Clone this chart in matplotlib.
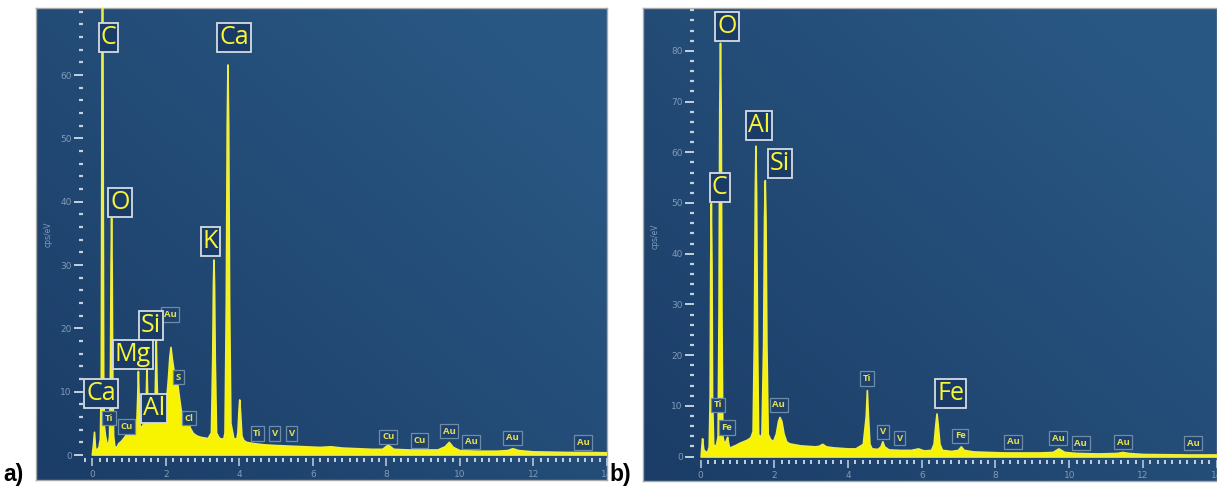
import numpy as np
import matplotlib
matplotlib.use("Agg")
import matplotlib.pyplot as plt
from matplotlib.ticker import MultipleLocator

W, H = 1217, 492

# ---------------------------------------------------------------- data
# Spectrum a): energy (keV) and intensity (cps/eV)
energy_a = [0.00, 0.03, 0.06, 0.09, 0.13, 0.18, 0.22, 0.245, 0.26, 0.277,
            0.295, 0.31, 0.33, 0.36, 0.41, 0.45, 0.47, 0.495, 0.51, 0.525,
            0.54, 0.555, 0.58, 0.61, 0.65, 0.72, 0.80, 0.88, 0.93, 0.98,
            1.05, 1.12, 1.18, 1.21, 1.235, 1.254, 1.275, 1.30, 1.34, 1.38,
            1.42, 1.45, 1.47, 1.487, 1.505, 1.53, 1.57, 1.61, 1.65, 1.70,
            1.72, 1.740, 1.76, 1.79, 1.84, 1.90, 1.96, 2.02, 2.07, 2.11,
            2.14, 2.18, 2.23, 2.28, 2.31, 2.36, 2.42, 2.50, 2.57, 2.62,
            2.67, 2.75, 2.85, 2.95, 3.05, 3.15, 3.24, 3.275, 3.295, 3.31,
            3.325, 3.345, 3.38, 3.45, 3.52, 3.58, 3.61, 3.645, 3.67, 3.69,
            3.71, 3.735, 3.77, 3.85, 3.93, 3.96, 3.99, 4.01, 4.03, 4.07,
            4.12, 4.20, 4.40, 4.70, 5.00, 5.40, 5.80, 6.20, 6.50, 6.80,
            7.20, 7.60, 7.90, 8.05, 8.20, 8.60, 9.00, 9.40, 9.60, 9.71,
            9.82, 10.00, 10.50, 11.00, 11.30, 11.44, 11.60, 12.00, 12.50, 13.00,
            13.50, 14.00, 14.10]
cps_a = [0.0, 1.5, 3.6, 1.0, 0.8, 1.2, 2.5, 12.0, 50.0, 110.0,
         50.0, 12.0, 4.5, 3.0, 1.5, 2.0, 3.0, 14.0, 30.0, 37.4,
         30.0, 14.0, 3.0, 1.5, 1.0, 1.8, 2.2, 2.8, 3.2, 3.0,
         3.4, 3.8, 4.2, 5.0, 9.0, 13.2, 9.0, 4.6, 4.3, 4.8,
         4.5, 5.5, 9.5, 13.8, 9.5, 5.0, 4.6, 5.0, 4.7, 6.0,
         12.0, 18.2, 12.0, 6.0, 5.2, 5.5, 6.5, 8.5, 12.0, 15.5,
         17.0, 15.0, 13.0, 12.0, 12.0, 9.5, 7.0, 5.5, 4.8, 5.3,
         4.2, 3.4, 3.0, 2.8, 2.7, 2.6, 3.5, 15.0, 27.0, 30.8,
         27.0, 15.0, 3.5, 2.7, 2.5, 2.6, 3.5, 24.0, 52.0, 61.6,
         52.0, 24.0, 5.0, 2.6, 2.5, 3.5, 7.0, 8.7, 7.0, 3.0,
         2.3, 2.0, 1.8, 1.6, 1.5, 1.4, 1.3, 1.2, 1.3, 1.1,
         1.0, 0.9, 0.9, 1.6, 0.9, 0.8, 0.8, 0.8, 1.3, 2.0,
         1.2, 0.7, 0.6, 0.6, 0.7, 1.0, 0.7, 0.5, 0.45, 0.4,
         0.4, 0.35, 0.35]

# Spectrum b)
energy_b = [0.00, 0.02, 0.04, 0.07, 0.12, 0.18, 0.22, 0.245, 0.26, 0.277,
            0.295, 0.31, 0.34, 0.38, 0.42, 0.46, 0.485, 0.505, 0.525, 0.545,
            0.565, 0.59, 0.62, 0.66, 0.70, 0.72, 0.75, 0.78, 0.85, 0.95,
            1.05, 1.15, 1.25, 1.35, 1.41, 1.445, 1.47, 1.487, 1.505, 1.53,
            1.56, 1.60, 1.65, 1.695, 1.72, 1.740, 1.76, 1.785, 1.82, 1.88,
            1.96, 2.04, 2.10, 2.14, 2.19, 2.25, 2.32, 2.40, 2.55, 2.70,
            2.90, 3.10, 3.20, 3.30, 3.40, 3.60, 3.80, 4.00, 4.20, 4.40,
            4.48, 4.51, 4.54, 4.58, 4.64, 4.80, 4.88, 4.93, 4.98, 5.10,
            5.40, 5.70, 5.90, 6.05, 6.25, 6.32, 6.37, 6.40, 6.43, 6.48,
            6.55, 6.80, 6.98, 7.06, 7.14, 7.40, 7.80, 8.20, 8.50, 8.80,
            9.20, 9.55, 9.71, 9.87, 10.20, 10.80, 11.30, 11.44, 11.60, 12.00,
            12.60, 13.20, 13.80, 14.10]
cps_b = [0.0, 2.0, 3.6, 1.5, 1.0, 1.0, 2.0, 12.0, 38.0, 50.0,
         38.0, 12.0, 2.5, 2.0, 2.5, 4.0, 28.0, 68.0, 81.6, 68.0,
         28.0, 4.0, 3.0, 2.8, 3.5, 3.9, 2.5, 1.7, 2.0, 2.3,
         2.7, 3.0, 3.3, 3.8, 5.0, 24.0, 52.0, 61.3, 52.0, 24.0,
         4.5, 3.8, 4.5, 22.0, 47.0, 54.5, 47.0, 22.0, 4.5, 3.5,
         3.0, 4.5, 7.0, 7.8, 7.0, 4.5, 3.0, 2.6, 2.4, 2.2,
         2.1, 2.0, 2.1, 2.5, 2.0, 1.8, 1.7, 1.6, 1.6, 2.5,
         8.0, 13.1, 8.0, 2.5, 1.6, 1.5, 2.0, 3.0, 2.0, 1.4,
         1.3, 1.3, 1.6, 1.2, 1.3, 2.5, 6.5, 8.5, 6.5, 2.5,
         1.3, 1.1, 1.3, 2.0, 1.3, 1.0, 0.9, 0.8, 0.8, 0.8,
         0.8, 0.9, 1.6, 0.9, 0.7, 0.6, 0.7, 0.9, 0.7, 0.5,
         0.45, 0.4, 0.4, 0.4]

# Element labels: (symbol, energy, cps)
major_labels_a = [("C", 0.44, 66.0), ("Ca", 3.85, 66.0), ("O", 0.75, 39.9),
                  ("K", 3.21, 33.8), ("Si", 1.59, 20.5), ("Mg", 1.11, 15.8),
                  ("Ca", 0.245, 9.75), ("Al", 1.67, 7.3)]
minor_labels_a = [("Ti", 0.45, 5.8), ("Cu", 0.93, 4.5), ("Au", 2.125, 22.2),
                  ("S", 2.34, 12.3), ("Cl", 2.63, 5.8), ("Ti", 4.49, 3.4),
                  ("V", 4.96, 3.4), ("V", 5.42, 3.4), ("Cu", 8.05, 2.85),
                  ("Cu", 8.90, 2.3), ("Au", 9.70, 3.75), ("Au", 10.31, 2.1),
                  ("Au", 11.43, 2.7), ("Au", 13.36, 2.0)]
major_labels_b = [("O", 0.72, 84.8), ("Al", 1.58, 65.3), ("Si", 2.15, 57.7),
                  ("C", 0.52, 53.0), ("Fe", 6.79, 12.5)]
minor_labels_b = [("Ti", 0.47, 10.2), ("Fe", 0.71, 5.7), ("Au", 2.12, 10.2),
                  ("Ti", 4.51, 15.4), ("V", 4.95, 4.9), ("V", 5.40, 3.6),
                  ("Fe", 7.04, 4.1), ("Au", 8.48, 2.9), ("Au", 9.70, 3.6),
                  ("Au", 10.31, 2.6), ("Au", 11.46, 2.85), ("Au", 13.37, 2.6)]

x_ticks = [0, 2, 4, 6, 8, 10, 12, 14]
y_ticks_a = [0, 10, 20, 30, 40, 50, 60]
y_ticks_b = [0, 10, 20, 30, 40, 50, 60, 70, 80]

# ---------------------------------------------------------------- style
BG_DARK = np.array([0x1b, 0x3d, 0x67]) / 255
BG_LIGHT = np.array([0x29, 0x57, 0x83]) / 255
SPEC = "#f8f400"
TICK = "#c3d0de"
TICKLABEL = "#7f9bba"
BIG_FONT = "Open Sans"

assert len(energy_a) == len(cps_a) and len(energy_b) == len(cps_b)


def frac(x0, y0, x1, y1):
    return [x0 / W, 1 - y1 / H, (x1 - x0) / W, (y1 - y0) / H]


fig = plt.figure(figsize=(W / 100, H / 100), dpi=100)
fig.patch.set_facecolor("white")


def panel(bg_px, ax_px, xlim, ylim, energy, cps, yticks, major, minor,
          ylabel_px):
    bg = fig.add_axes(frac(*bg_px))
    gx, gy = np.meshgrid(np.linspace(0, 1, 200), np.linspace(0, 1, 200))
    t = np.clip(0.6 * gx + 0.55 * gy, 0, 1)[..., None]
    img = BG_DARK * (1 - t) + BG_LIGHT * t
    bg.imshow(img, extent=[0, 1, 0, 1], origin="lower", aspect="auto",
              interpolation="bilinear")
    bg.set_xlim(0, 1)
    bg.set_ylim(0, 1)
    bg.set_xticks([])
    bg.set_yticks([])
    for s in bg.spines.values():
        s.set_color("#a9a9a9")
        s.set_linewidth(1.0)
    bg.set_zorder(0)

    ax = fig.add_axes(frac(*ax_px))
    ax.set_zorder(1)
    ax.patch.set_alpha(0)
    ax.fill_between(energy, 0, cps, color=SPEC, linewidth=1.2,
                    edgecolor="#f0ee40", zorder=2)
    ax.set_xlim(*xlim)
    ax.set_ylim(*ylim)
    for s in ax.spines.values():
        s.set_visible(False)

    ax.set_xticks(x_ticks)
    ax.xaxis.set_minor_locator(MultipleLocator(0.2))
    ax.set_yticks(yticks)
    ax.yaxis.set_minor_locator(MultipleLocator(2))
    ax.tick_params(axis="x", which="major", direction="out", length=6,
                   width=1.1, color=TICK, labelsize=6.5, labelcolor=TICKLABEL,
                   pad=2.5)
    ax.tick_params(axis="x", which="minor", direction="out", length=3,
                   width=1.4, color=TICK)
    ax.tick_params(axis="y", which="major", direction="out", length=6.5,
                   width=1.4, color=TICK, labelsize=6.5, labelcolor=TICKLABEL,
                   pad=1.5)
    ax.tick_params(axis="y", which="minor", direction="out", length=2.6,
                   width=1.6, color=TICK)
    for lab in ax.get_xticklabels() + ax.get_yticklabels():
        lab.set_clip_path(bg.patch)

    for sym, e, c in minor:
        ax.text(e, c, sym, ha="center", va="center", fontsize=6.8,
                fontweight="bold", family="Open Sans", color="#e3df55",
                zorder=5, clip_on=True,
                bbox=dict(boxstyle="square,pad=0.28", facecolor="#1e426d",
                          edgecolor="#6d8caa", linewidth=0.9))
    for sym, e, c in major:
        ax.text(e, c, sym, ha="center", va="center", fontsize=18,
                family=BIG_FONT, color="#fbf633", zorder=6,
                bbox=dict(boxstyle="square,pad=0.08", facecolor="#1b3b67",
                          edgecolor="#d5dce4", linewidth=1.3))

    fig.text(ylabel_px[0] / W, 1 - ylabel_px[1] / H, "cps/eV", rotation=90,
             ha="center", va="center", fontsize=5.5, color=TICKLABEL)
    return ax


panel((36, 8, 607, 480), (83, 8, 607, 458), (-0.253, 13.99), (-0.47, 70.6),
      energy_a, cps_a, y_ticks_a, major_labels_a, minor_labels_a, (48, 234))
panel((643, 8, 1217, 481), (694, 8, 1217, 459.5), (-0.18, 14.01),
      (-0.59, 88.46), energy_b, cps_b, y_ticks_b, major_labels_b,
      minor_labels_b, (655, 236))

fig.text(3 / W, 1 - 481 / H, "a)", fontsize=16.5, fontweight="bold",
         family="Liberation Sans", ha="left", va="baseline", color="black")
fig.text(609 / W, 1 - 481 / H, "b)", fontsize=16.5, fontweight="bold",
         family="Liberation Sans", ha="left", va="baseline", color="black")

fig.savefig("out.png", dpi=100)
